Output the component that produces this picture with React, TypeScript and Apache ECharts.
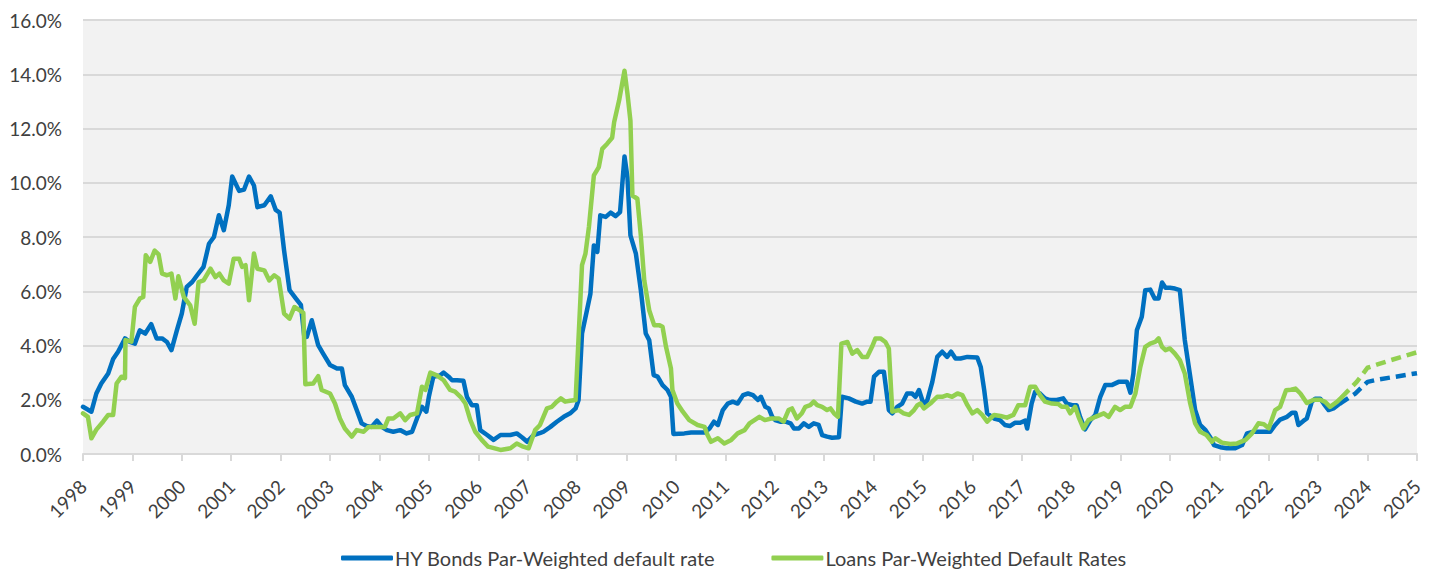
import React, { useEffect, useRef } from "react";
import * as echarts from "echarts";

// Decimal year, default rate (%)
const hyBonds: [number, number][] = [
  [1998.0, 1.74], [1998.17, 1.56], [1998.27, 2.23], [1998.37, 2.6], [1998.51, 2.97], [1998.61, 3.5], [1998.71, 3.77], [1998.85, 4.26], [1998.95, 4.13],
  [1999.05, 4.07], [1999.15, 4.56], [1999.26, 4.44], [1999.38, 4.79], [1999.49, 4.26], [1999.6, 4.26], [1999.7, 4.13], [1999.79, 3.83], [1999.9, 4.56],
  [2000.0, 5.18], [2000.1, 6.16], [2000.21, 6.34], [2000.31, 6.59], [2000.44, 6.9], [2000.55, 7.75], [2000.65, 8.0], [2000.75, 8.8], [2000.85, 8.25], [2000.95, 9.17],
  [2001.02, 10.23], [2001.16, 9.7], [2001.26, 9.75], [2001.36, 10.23], [2001.46, 9.9], [2001.53, 9.1], [2001.67, 9.17], [2001.8, 9.5], [2001.9, 9.0], [2001.98, 8.9],
  [2002.07, 7.5], [2002.18, 6.04], [2002.31, 5.73], [2002.41, 5.5], [2002.48, 4.3], [2002.53, 4.32], [2002.63, 4.93], [2002.76, 4.01], [2002.86, 3.7],
  [2003.0, 3.28], [2003.14, 3.15], [2003.24, 3.15], [2003.3, 2.54], [2003.44, 2.11], [2003.54, 1.62], [2003.64, 1.13], [2003.74, 1.03], [2003.84, 1.0], [2003.95, 1.23],
  [2004.05, 1.0], [2004.15, 0.88], [2004.28, 0.82], [2004.42, 0.88], [2004.55, 0.76], [2004.66, 0.82], [2004.76, 1.31], [2004.86, 1.74], [2004.95, 1.56],
  [2005.0, 2.11], [2005.09, 2.85], [2005.23, 2.9], [2005.3, 3.0], [2005.4, 2.85], [2005.47, 2.72], [2005.57, 2.72], [2005.7, 2.7], [2005.77, 2.11], [2005.87, 1.8], [2005.97, 1.8],
  [2006.04, 0.88], [2006.18, 0.7], [2006.31, 0.52], [2006.45, 0.7], [2006.65, 0.7], [2006.78, 0.76], [2006.89, 0.61], [2006.99, 0.45],
  [2007.12, 0.7], [2007.26, 0.78], [2007.32, 0.82], [2007.46, 1.0], [2007.59, 1.19], [2007.73, 1.37], [2007.86, 1.5], [2007.97, 1.68],
  [2008.03, 1.99], [2008.1, 4.44], [2008.2, 5.3], [2008.27, 5.91], [2008.34, 7.69], [2008.41, 7.45], [2008.47, 8.8], [2008.58, 8.74], [2008.68, 8.9], [2008.78, 8.77], [2008.87, 8.92], [2008.96, 10.97],
  [2009.02, 10.2], [2009.08, 8.06], [2009.19, 7.39], [2009.29, 6.04], [2009.39, 4.44], [2009.46, 4.2], [2009.55, 2.91], [2009.63, 2.85], [2009.73, 2.54], [2009.83, 2.36], [2009.9, 2.11], [2009.95, 0.74],
  [2010.17, 0.76], [2010.31, 0.79], [2010.58, 0.79], [2010.68, 0.94], [2010.77, 1.19], [2010.85, 1.07], [2010.95, 1.62],
  [2011.05, 1.86], [2011.15, 1.93], [2011.25, 1.86], [2011.36, 2.17], [2011.46, 2.23], [2011.56, 2.17], [2011.66, 1.99], [2011.72, 2.11], [2011.81, 1.74], [2011.88, 1.68], [2011.95, 1.37],
  [2012.01, 1.25], [2012.11, 1.19], [2012.22, 1.19], [2012.32, 1.13], [2012.39, 0.94], [2012.49, 0.94], [2012.59, 1.13], [2012.69, 1.0], [2012.79, 1.13], [2012.89, 1.07], [2012.96, 0.7],
  [2013.06, 0.64], [2013.16, 0.6], [2013.3, 0.62], [2013.36, 2.11], [2013.5, 2.05], [2013.64, 1.93], [2013.77, 1.86], [2013.87, 1.93], [2013.94, 1.93],
  [2014.01, 2.85], [2014.11, 3.03], [2014.21, 3.03], [2014.31, 1.62], [2014.38, 1.5], [2014.48, 1.74], [2014.58, 1.86], [2014.68, 2.23], [2014.78, 2.23], [2014.85, 2.11], [2014.92, 2.36],
  [2015.02, 1.8], [2015.09, 1.99], [2015.19, 2.66], [2015.29, 3.58], [2015.39, 3.77], [2015.49, 3.58], [2015.57, 3.77], [2015.66, 3.52], [2015.76, 3.52], [2015.9, 3.58],
  [2016.1, 3.56], [2016.17, 3.21], [2016.24, 2.36], [2016.3, 1.5], [2016.44, 1.31], [2016.56, 1.25], [2016.66, 1.07], [2016.76, 1.03], [2016.86, 1.15], [2016.97, 1.15],
  [2017.07, 1.23], [2017.11, 0.94], [2017.2, 1.86], [2017.27, 2.29], [2017.37, 2.23], [2017.47, 2.05], [2017.57, 1.99], [2017.71, 1.99], [2017.84, 2.05], [2017.91, 1.86],
  [2018.02, 1.8], [2018.11, 1.8], [2018.18, 1.37], [2018.28, 0.91], [2018.39, 1.25], [2018.49, 1.44], [2018.59, 2.11], [2018.69, 2.54], [2018.82, 2.54], [2018.96, 2.66],
  [2019.13, 2.66], [2019.2, 2.26], [2019.26, 2.97], [2019.33, 4.56], [2019.43, 5.06], [2019.5, 6.04], [2019.6, 6.06], [2019.69, 5.73], [2019.77, 5.73], [2019.84, 6.32], [2019.91, 6.13],
  [2020.0, 6.13], [2020.1, 6.1], [2020.2, 6.04], [2020.3, 4.2], [2020.41, 2.85], [2020.51, 1.62], [2020.61, 1.07], [2020.72, 0.88], [2020.82, 0.6], [2020.89, 0.33],
  [2021.02, 0.25], [2021.15, 0.21], [2021.32, 0.21], [2021.46, 0.33], [2021.56, 0.76], [2021.69, 0.82], [2021.83, 0.82],
  [2022.03, 0.82], [2022.13, 1.07], [2022.23, 1.27], [2022.37, 1.37], [2022.47, 1.52], [2022.54, 1.52], [2022.6, 1.07], [2022.7, 1.22], [2022.77, 1.31], [2022.87, 1.92], [2022.94, 2.04],
  [2023.04, 2.04], [2023.11, 1.86], [2023.21, 1.62], [2023.31, 1.68], [2023.44, 1.86],
];

const hyBondsProjection: [number, number][] = [
  [2023.44, 1.86], [2023.75, 2.23], [2024.0, 2.66], [2024.2, 2.74], [2024.5, 2.83], [2025.0, 2.98],
];

const loans: [number, number][] = [
  [1998.0, 1.5], [1998.1, 1.37], [1998.17, 0.58], [1998.27, 0.9], [1998.41, 1.2], [1998.51, 1.44], [1998.61, 1.44], [1998.68, 2.6], [1998.78, 2.85], [1998.85, 2.8], [1998.86, 4.2], [1998.98, 4.14],
  [1999.05, 5.42], [1999.15, 5.73], [1999.22, 5.79], [1999.27, 7.33], [1999.36, 7.08], [1999.45, 7.5], [1999.53, 7.36], [1999.6, 6.65], [1999.7, 6.59], [1999.79, 6.65], [1999.87, 5.73], [1999.93, 6.55],
  [2000.04, 5.79], [2000.17, 5.48], [2000.26, 4.8], [2000.34, 6.34], [2000.44, 6.4], [2000.58, 6.83], [2000.68, 6.52], [2000.76, 6.65], [2000.85, 6.4], [2000.95, 6.28],
  [2001.05, 7.2], [2001.16, 7.2], [2001.22, 6.9], [2001.29, 6.96], [2001.36, 5.67], [2001.46, 7.39], [2001.53, 6.83], [2001.67, 6.77], [2001.77, 6.4], [2001.87, 6.59], [2001.96, 6.47],
  [2002.07, 5.18], [2002.18, 4.99], [2002.28, 5.42], [2002.38, 5.3], [2002.46, 5.2], [2002.5, 2.57], [2002.66, 2.6], [2002.76, 2.87], [2002.83, 2.36],
  [2003.0, 2.23], [2003.1, 1.86], [2003.2, 1.31], [2003.3, 0.94], [2003.44, 0.64], [2003.54, 0.88], [2003.68, 0.82], [2003.78, 1.0], [2003.98, 1.0],
  [2004.11, 1.0], [2004.18, 1.31], [2004.28, 1.31], [2004.42, 1.5], [2004.52, 1.25], [2004.62, 1.44], [2004.76, 1.5], [2004.86, 2.48], [2004.93, 2.36],
  [2005.03, 3.0], [2005.16, 2.9], [2005.3, 2.72], [2005.43, 2.36], [2005.53, 2.3], [2005.64, 2.11], [2005.74, 1.86], [2005.84, 1.25], [2005.94, 0.82],
  [2006.07, 0.52], [2006.2, 0.27], [2006.45, 0.15], [2006.65, 0.21], [2006.78, 0.39], [2006.91, 0.27],
  [2007.02, 0.21], [2007.15, 0.88], [2007.25, 1.07], [2007.39, 1.68], [2007.49, 1.74], [2007.59, 1.93], [2007.67, 2.05], [2007.76, 1.93], [2007.86, 1.96], [2007.97, 1.99],
  [2008.1, 6.96], [2008.17, 7.39], [2008.24, 8.37], [2008.34, 10.27], [2008.44, 10.58], [2008.51, 11.25], [2008.61, 11.44], [2008.71, 11.66], [2008.75, 12.23], [2008.85, 13.03], [2008.96, 14.13],
  [2009.02, 13.28], [2009.08, 12.29], [2009.12, 9.53], [2009.22, 9.41], [2009.29, 8.06], [2009.36, 6.4], [2009.46, 5.3], [2009.56, 4.75], [2009.66, 4.75], [2009.73, 4.69], [2009.8, 3.95], [2009.9, 3.15], [2009.93, 2.36],
  [2010.03, 1.86], [2010.14, 1.56], [2010.27, 1.25], [2010.44, 1.07], [2010.58, 1.0], [2010.64, 0.7], [2010.71, 0.45], [2010.85, 0.58], [2010.98, 0.39],
  [2011.12, 0.52], [2011.25, 0.76], [2011.39, 0.88], [2011.49, 1.13], [2011.69, 1.37], [2011.8, 1.25], [2011.93, 1.31],
  [2012.08, 1.31], [2012.18, 1.19], [2012.28, 1.62], [2012.35, 1.68], [2012.45, 1.31], [2012.55, 1.5], [2012.62, 1.74], [2012.72, 1.8], [2012.79, 1.93], [2012.86, 1.8], [2012.96, 1.74],
  [2013.06, 1.62], [2013.13, 1.68], [2013.2, 1.5], [2013.28, 1.37], [2013.35, 4.07], [2013.47, 4.13], [2013.57, 3.7], [2013.67, 3.83], [2013.77, 3.58], [2013.87, 3.58], [2013.97, 3.95],
  [2014.04, 4.26], [2014.14, 4.26], [2014.24, 4.13], [2014.31, 3.89], [2014.38, 1.56], [2014.51, 1.62], [2014.61, 1.5], [2014.72, 1.44], [2014.82, 1.62], [2014.89, 1.8], [2014.95, 1.86],
  [2015.02, 1.68], [2015.15, 1.86], [2015.29, 2.11], [2015.39, 2.11], [2015.49, 2.17], [2015.59, 2.11], [2015.7, 2.23], [2015.8, 2.17], [2015.9, 1.8],
  [2016.0, 1.5], [2016.1, 1.62], [2016.2, 1.44], [2016.3, 1.19], [2016.44, 1.44], [2016.57, 1.4], [2016.7, 1.34], [2016.83, 1.44], [2016.93, 1.8],
  [2017.07, 1.8], [2017.17, 2.48], [2017.27, 2.48], [2017.37, 2.17], [2017.47, 1.93], [2017.61, 1.86], [2017.74, 1.84], [2017.81, 1.74], [2017.91, 1.74], [2017.98, 1.5],
  [2018.08, 1.74], [2018.15, 1.37], [2018.25, 0.94], [2018.35, 1.25], [2018.49, 1.37], [2018.66, 1.5], [2018.76, 1.37], [2018.89, 1.74], [2018.99, 1.62],
  [2019.09, 1.74], [2019.2, 1.74], [2019.3, 2.23], [2019.4, 3.21], [2019.5, 3.95], [2019.6, 4.07], [2019.7, 4.13], [2019.77, 4.26], [2019.84, 3.95], [2019.91, 3.83],
  [2020.0, 3.89], [2020.1, 3.7], [2020.2, 3.46], [2020.3, 2.97], [2020.41, 1.86], [2020.51, 1.13], [2020.61, 0.82], [2020.74, 0.7], [2020.85, 0.45], [2020.92, 0.58],
  [2021.05, 0.42], [2021.22, 0.37], [2021.36, 0.39], [2021.53, 0.52], [2021.66, 0.76], [2021.79, 1.13], [2021.9, 1.1],
  [2022.0, 0.95], [2022.13, 1.62], [2022.23, 1.74], [2022.35, 2.35], [2022.45, 2.37], [2022.54, 2.41], [2022.64, 2.23], [2022.77, 1.88], [2022.91, 2.0],
  [2023.04, 2.0], [2023.14, 1.92], [2023.24, 1.74], [2023.38, 1.92], [2023.48, 2.1],
];

const loansProjection: [number, number][] = [
  [2023.48, 2.1], [2023.78, 2.66], [2024.0, 3.18], [2024.2, 3.3], [2024.45, 3.45], [2025.0, 3.75],
];

const seriesNames = ["HY Bonds Par-Weighted default rate", "Loans Par-Weighted Default Rates"];
const seriesColors = ["#0070c0", "#92d050"];

const yearMin = 1998;
const yearMax = 2025;
const rateMax = 16;
const rateStep = 2;

const FONT = "Lato, 'Open Sans', sans-serif";
const TEXT = "#404040";

export default function App() {
  const ref = useRef<HTMLDivElement>(null);

  useEffect(() => {
    if (!ref.current) return;
    const chart = echarts.init(ref.current, undefined, { renderer: "svg" });
    const solid = (name: string, data: [number, number][], color: string, z: number) => ({
      type: "line",
      name,
      data,
      symbol: "none",
      showSymbol: false,
      z,
      itemStyle: { color },
      lineStyle: { color, width: 4.5, join: "round", cap: "round" },
    });
    const dashed = (name: string, data: [number, number][], color: string, z: number) => ({
      type: "line",
      name,
      data,
      symbol: "none",
      showSymbol: false,
      z,
      itemStyle: { color },
      lineStyle: { color, width: 4.5, type: [10, 6], join: "round" },
    });
    chart.setOption({
      animation: false,
      textStyle: { fontFamily: FONT },
      grid: {
        left: 83,
        right: 17,
        top: 20,
        bottom: 115,
        show: true,
        backgroundColor: "#f2f2f2",
        borderWidth: 0,
      },
      legend: {
        data: seriesNames,
        left: 336,
        top: 543,
        icon: "roundRect",
        itemWidth: 52,
        itemHeight: 5,
        itemGap: 56,
        textStyle: { fontFamily: FONT, fontSize: 20, color: TEXT, padding: [0, 0, 0, -3] },
      },
      xAxis: {
        type: "value",
        min: yearMin,
        max: yearMax,
        interval: 1,
        axisLine: { show: true, lineStyle: { color: "#d9d9d9", width: 2 } },
        axisTick: { show: true, length: 7, lineStyle: { color: "#d9d9d9", width: 2 } },
        splitLine: { show: false },
        axisLabel: {
          rotate: 45,
          margin: 29,
          fontSize: 19,
          color: TEXT,
          fontFamily: FONT,
          formatter: (v: number) => String(v),
        },
      },
      yAxis: {
        type: "value",
        min: 0,
        max: rateMax,
        interval: rateStep,
        axisLine: { show: false },
        axisTick: { show: false },
        splitLine: { show: true, lineStyle: { color: "#d9d9d9", width: 2 } },
        axisLabel: {
          margin: 21,
          fontSize: 19,
          color: TEXT,
          fontFamily: FONT,
          formatter: (v: number) => v.toFixed(1) + "%",
        },
      },
      series: [
        solid(seriesNames[0], hyBonds, seriesColors[0], 2),
        dashed("HY Bonds projection", hyBondsProjection, seriesColors[0], 2),
        solid(seriesNames[1], loans, seriesColors[1], 3),
        dashed("Loans projection", loansProjection, seriesColors[1], 3),
      ],
    });
    return () => chart.dispose();
  }, []);

  return (
    <div
      ref={ref}
      style={{ position: "fixed", left: 0, top: 0, width: 1434, height: 569, background: "#ffffff" }}
    />
  );
}
